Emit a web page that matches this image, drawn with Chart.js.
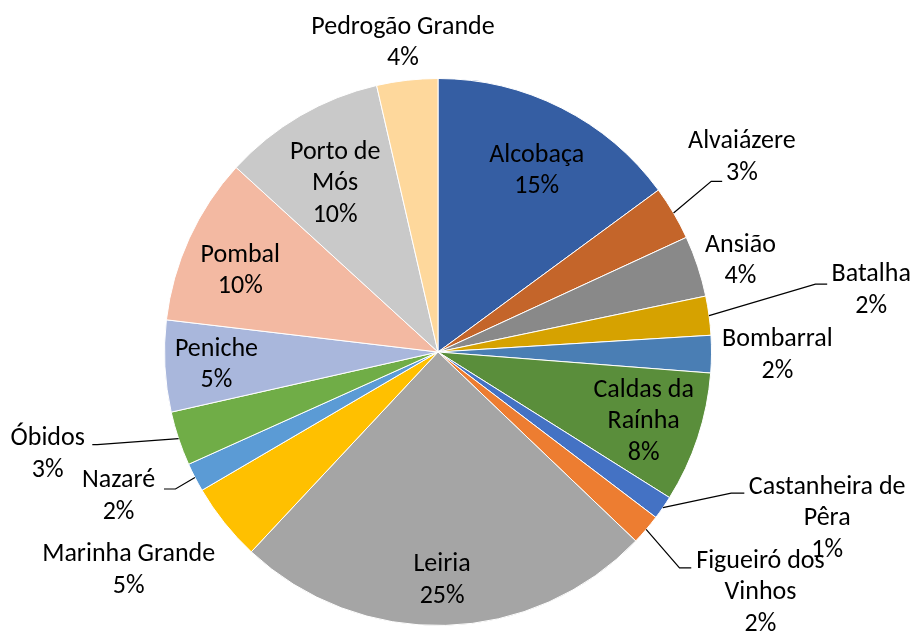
<!DOCTYPE html>
<html>
<head>
<meta charset="utf-8">
<script src="https://cdn.jsdelivr.net/npm/chart.js@4/dist/chart.umd.min.js"></script>
<style>
  html, body { margin: 0; padding: 0; background: #fff; }
  #wrap { width: 914px; height: 634px; }
</style>
</head>
<body>
<div id="wrap"><canvas id="pieChart" width="914" height="634"></canvas></div>
<script>
// data (share of the whole, in %)
var municipios = ['Alcobaça', 'Alvaiázere', 'Ansião', 'Batalha', 'Bombarral', 'Caldas da Raínha',
    'Castanheira de Pêra', 'Figueiró dos Vinhos', 'Leiria', 'Marinha Grande', 'Nazaré', 'Óbidos',
    'Peniche', 'Pombal', 'Porto de Mós', 'Pedrogão Grande'];
var valores = [14.9, 3.2, 3.6, 2.3, 2.2, 7.7, 1.4, 1.8, 24.8, 4.6, 1.7, 3.2, 5.4, 9.9, 9.6, 3.6];
var cores = ['#355EA3', '#C4652A', '#898989', '#D6A200', '#4A7EB4', '#5A8E3B', '#4472C4', '#ED7D31',
    '#A5A5A5', '#FFC000', '#5B9BD5', '#70AD47', '#A9B7DC', '#F3B9A2', '#C9C9C9', '#FED89C'];

// label placement, in units of the pie radius from its centre
// x,y = centre of the text block; brk = words on first line; leader = elbow x,y + end x,y
var layout = [
    { x: 0.361, y: -0.662 },
    { x: 1.111, y: -0.712, leader: [0.999, -0.624, 1.039, -0.624] },
    { x: 1.106, y: -0.332 },
    { x: 1.584, y: -0.224, leader: [1.380, -0.248, 1.423, -0.248] },
    { x: 1.241, y: 0.013 },
    { x: 0.752, y: 0.255, brk: 2 },
    { x: 1.423, y: 0.609, brk: 2, leader: [1.072, 0.516, 1.120, 0.516] },
    { x: 1.179, y: 0.880, brk: 2, leader: [0.883, 0.789, 0.926, 0.789] },
    { x: 0.015, y: 0.836 },
    { x: -1.131, y: 0.799 },
    { x: -1.168, y: 0.529, leader: [-0.960, 0.501, -1.002, 0.501] },
    { x: -1.427, y: 0.374, leader: [-1.246, 0.339, -1.264, 0.339] },
    { x: -0.810, y: 0.047 },
    { x: -0.723, y: -0.297 },
    { x: -0.376, y: -0.615, brk: 2 },
    { x: -0.128, y: -1.130 }
];

var FONT = '26px Carlito, Calibri, Lato, sans-serif';
var LINE_H = 31.5;

var pieLabels = {
    id: 'pieLabels',
    afterDatasetsDraw: function (chart) {
        var ctx = chart.ctx;
        var meta = chart.getDatasetMeta(0);
        var data = chart.data.datasets[0].data;
        var total = data.reduce(function (a, b) { return a + b; }, 0);
        ctx.save();
        ctx.font = FONT;
        ctx.fillStyle = '#000';
        ctx.strokeStyle = '#000';
        ctx.lineWidth = 1.2;
        ctx.textAlign = 'center';
        ctx.textBaseline = 'middle';
        meta.data.forEach(function (arc, i) {
            var p = arc.getProps(['x', 'y', 'startAngle', 'endAngle', 'outerRadius'], true);
            var r = p.outerRadius;
            var L = layout[i];
            if (L.leader) {
                var mid = (p.startAngle + p.endAngle) / 2;
                ctx.beginPath();
                ctx.moveTo(p.x + Math.cos(mid) * r, p.y + Math.sin(mid) * r);
                ctx.lineTo(p.x + L.leader[0] * r, p.y + L.leader[1] * r);
                ctx.lineTo(p.x + L.leader[2] * r, p.y + L.leader[3] * r);
                ctx.stroke();
            }
            var words = chart.data.labels[i].split(' ');
            var lines = L.brk ? [words.slice(0, L.brk).join(' '), words.slice(L.brk).join(' ')] : [words.join(' ')];
            lines.push(Math.round(data[i] / total * 100) + '%');
            var cx = p.x + L.x * r, cy = p.y + L.y * r;
            lines.forEach(function (t, k) {
                ctx.fillText(t, cx, cy + (k - (lines.length - 1) / 2) * LINE_H);
            });
        });
        ctx.restore();
    }
};

var chart = new Chart(document.getElementById('pieChart').getContext('2d'), {
    type: 'pie',
    data: {
        labels: municipios,
        datasets: [{
            data: valores,
            backgroundColor: cores,
            borderColor: '#fff',
            borderWidth: 1
        }]
    },
    options: {
        responsive: false,
        animation: false,
        layout: { padding: { top: 78, bottom: 8, left: 164, right: 202 } },
        plugins: {
            legend: { display: false },
            tooltip: { enabled: false }
        }
    },
    plugins: [pieLabels]
});
</script>
</body>
</html>
